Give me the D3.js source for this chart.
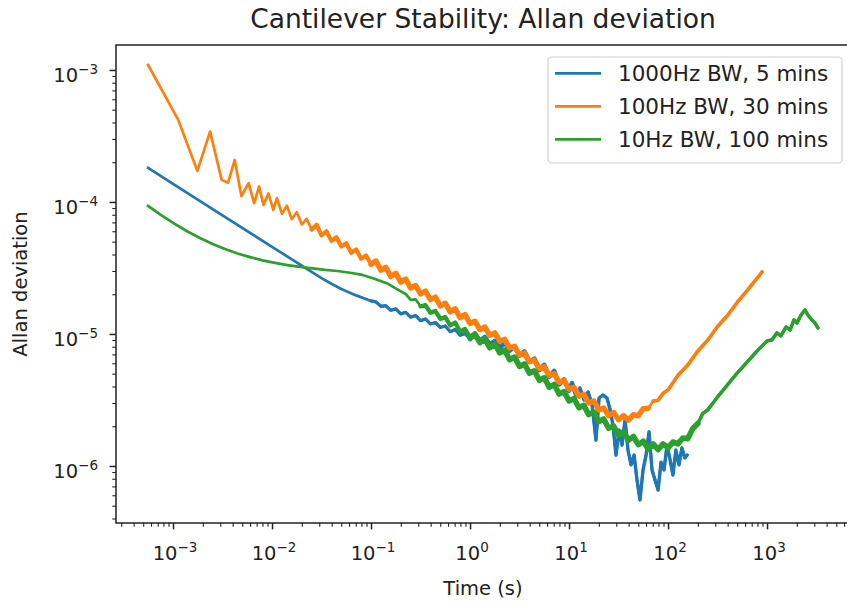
<!DOCTYPE html>
<html>
<head>
<meta charset="utf-8">
<script src="https://cdn.jsdelivr.net/npm/d3@7"></script>
<style>
  body { margin: 0; background: #fff; }
  svg { font-family: "DejaVu Sans", sans-serif; }
</style>
</head>
<body>
<div id="chart"></div>
<script>
// Averaging times (s) and Allan deviation

const tauBlue = [5.6e-4, 1e-3, 3.16e-3, 1e-2, 3.16e-2, 3.98e-2, 5.01e-2, 7.08e-2, 0.1,
  0.112, 0.126, 0.141, 0.158, 0.178, 0.2, 0.224, 0.251, 0.282, 0.316, 0.355, 0.398, 0.447, 0.501, 0.562, 0.631, 0.708, 0.794, 0.891, 1.0,
  1.12, 1.26, 1.41, 1.58, 1.78, 2.0, 2.24, 2.51, 2.82, 3.16, 3.55, 3.98, 4.47, 5.01, 5.62, 6.31, 7.08, 7.94, 8.91, 10,
  10.7, 11.8, 12.9, 14.2, 15.6, 17.1, 18.7, 20.1, 22.0, 24.2, 26.0, 27.8, 29.8, 32.0, 34.3, 36.8, 39.4, 42.3, 45.4, 48.6,
  52.1, 55.9, 60.0, 64.3, 68.9, 73.9, 79.3, 85.0, 91.1, 97.7, 105, 112, 120, 129, 138, 148, 156];
const devBlue = [1.81e-4, 1.37e-4, 7.92e-5, 4.57e-5, 2.65e-5, 2.40e-5, 2.19e-5, 1.96e-5, 1.78e-5,
  1.75e-5, 1.62e-5, 1.64e-5, 1.51e-5, 1.55e-5, 1.42e-5, 1.46e-5, 1.34e-5, 1.38e-5, 1.26e-5, 1.30e-5, 1.19e-5, 1.22e-5, 1.12e-5, 1.15e-5, 1.04e-5, 1.08e-5, 9.77e-6, 1.01e-5, 9.14e-6,
  1.00e-5, 8.89e-6, 9.49e-6, 8.32e-6, 8.87e-6, 7.73e-6, 8.73e-6, 7.47e-6, 8.06e-6, 6.86e-6, 7.38e-6, 6.16e-6, 6.49e-6, 5.32e-6, 5.83e-6, 4.74e-6, 5.24e-6, 4.15e-6, 4.53e-6, 3.71e-6,
  4.25e-6, 3.45e-6, 3.90e-6, 3.16e-6, 3.64e-6, 2.90e-6, 1.57e-6, 3.27e-6, 3.45e-6, 3.27e-6, 2.66e-6, 2.04e-6, 1.21e-6, 1.87e-6, 1.44e-6, 2.23e-6, 1.32e-6, 1.02e-6, 1.21e-6, 7.83e-7,
  5.53e-7, 9.33e-7, 1.21e-6, 1.81e-6, 9.33e-7, 7.83e-7, 6.58e-7, 1.07e-6, 9.33e-7, 1.44e-6, 1.11e-6, 8.55e-7, 1.32e-6, 1.02e-6, 1.37e-6, 1.15e-6, 1.21e-6];

const tauOrange = [5.6e-4, 1.13e-3, 1.76e-3, 2.37e-3, 3.1e-3, 3.6e-3, 4.2e-3, 4.9e-3, 5.8e-3, 6.6e-3, 7.4e-3, 8.2e-3, 9.2e-3, 1.03e-2,
  0.0112, 0.0126, 0.0141, 0.0158, 0.0178, 0.020, 0.0224, 0.0251, 0.0282, 0.0316, 0.0355, 0.0398, 0.0447, 0.0501, 0.0562, 0.0631, 0.0708, 0.0794, 0.0891, 0.1,
  0.112, 0.126, 0.141, 0.158, 0.178, 0.2, 0.224, 0.251, 0.282, 0.316, 0.355, 0.398, 0.447, 0.501, 0.562, 0.631, 0.708, 0.794, 0.891, 1.0,
  1.12, 1.26, 1.41, 1.58, 1.78, 2.0, 2.24, 2.51, 2.82, 3.16, 3.55, 3.98, 4.47, 5.01, 5.62, 6.31, 7.08, 7.94, 8.91, 10,
  11.2, 12.6, 14.1, 15.8, 17.8, 20, 22.4, 25.1, 28.2, 31.6, 35.5, 39.8, 44.7, 50.1, 56.2, 63.1, 70.8, 79.4, 89.1, 100,
  126, 158, 200, 251, 316, 398, 501, 631, 794, 891];
const devOrange = [1.09e-3, 4.18e-4, 1.72e-4, 3.41e-4, 1.47e-4, 1.40e-4, 2.08e-4, 1.11e-4, 1.39e-4, 9.8e-5, 1.31e-4, 9.5e-5, 1.16e-4, 8.7e-5,
  1.07e-4, 8.13e-5, 9.39e-5, 7.41e-5, 8.36e-5, 6.76e-5, 7.46e-5, 6.17e-5, 6.72e-5, 5.58e-5, 5.99e-5, 5.07e-5, 5.40e-5, 4.60e-5, 4.87e-5, 4.12e-5, 4.36e-5, 3.72e-5, 3.93e-5, 3.37e-5,
  3.57e-5, 3.04e-5, 3.20e-5, 2.72e-5, 2.88e-5, 2.47e-5, 2.60e-5, 2.23e-5, 2.33e-5, 2.01e-5, 2.11e-5, 1.82e-5, 1.90e-5, 1.63e-5, 1.71e-5, 1.47e-5, 1.55e-5, 1.33e-5, 1.40e-5, 1.20e-5,
  1.25e-5, 1.08e-5, 1.13e-5, 9.77e-6, 1.02e-5, 8.81e-6, 9.10e-6, 7.82e-6, 8.07e-6, 6.93e-6, 7.16e-6, 6.15e-6, 6.35e-6, 5.46e-6, 5.64e-6, 4.84e-6, 5.00e-6, 4.30e-6, 4.44e-6, 3.81e-6,
  3.94e-6, 3.38e-6, 3.49e-6, 3.00e-6, 3.10e-6, 2.66e-6, 2.75e-6, 2.40e-6, 2.54e-6, 2.24e-6, 2.41e-6, 2.22e-6, 2.45e-6, 2.40e-6, 2.72e-6, 2.74e-6, 3.10e-6, 3.15e-6, 3.55e-6, 3.77e-6,
  4.87e-6, 5.81e-6, 7.44e-6, 8.96e-6, 1.14e-5, 1.38e-5, 1.74e-5, 2.14e-5, 2.65e-5, 2.95e-5];

const tauGreen = [5.59e-4, 7.65e-4, 1.05e-3, 1.40e-3, 1.87e-3, 2.51e-3, 3.35e-3, 4.48e-3, 6.00e-3, 8.02e-3, 1.07e-2,
  1.43e-2, 1.92e-2, 2.57e-2, 3.43e-2, 4.59e-2, 6.14e-2, 8.21e-2, 0.110, 0.147, 0.196,
  0.224, 0.251, 0.282, 0.316, 0.355, 0.398, 0.447, 0.501, 0.562, 0.631, 0.708, 0.794, 0.891, 1.0,
  1.12, 1.26, 1.41, 1.58, 1.78, 2.0, 2.24, 2.51, 2.82, 3.16, 3.55, 3.98, 4.47, 5.01, 5.62, 6.31, 7.08, 7.94, 8.91, 10,
  11.2, 12.6, 14.1, 15.8, 17.8, 20, 22.4, 25.1, 28.2, 31.6, 35.5, 39.8, 44.7, 50.1, 56.2, 63.1, 70.8, 79.4, 89.1, 100,
  112, 126, 141, 158, 178, 200, 224, 251,
  316, 398, 501, 631, 794, 1000, 1120, 1260, 1380, 1560, 1710, 1870, 2010, 2200, 2420, 2590, 2780, 3050, 3270];
const devGreen = [9.33e-5, 7.90e-5, 6.80e-5, 5.97e-5, 5.33e-5, 4.80e-5, 4.40e-5, 4.07e-5, 3.82e-5, 3.61e-5, 3.46e-5,
  3.32e-5, 3.22e-5, 3.14e-5, 3.06e-5, 3.00e-5, 2.91e-5, 2.80e-5, 2.61e-5, 2.41e-5, 2.12e-5,
  2.01e-5, 1.81e-5, 1.83e-5, 1.62e-5, 1.65e-5, 1.45e-5, 1.49e-5, 1.30e-5, 1.34e-5, 1.16e-5, 1.22e-5, 1.04e-5, 1.09e-5, 9.40e-6,
  9.98e-6, 8.61e-6, 9.14e-6, 7.87e-6, 8.38e-6, 7.21e-6, 7.53e-6, 6.38e-6, 6.68e-6, 5.68e-6, 5.93e-6, 5.04e-6, 5.25e-6, 4.46e-6, 4.67e-6, 3.95e-6, 4.14e-6, 3.51e-6, 3.66e-6, 3.11e-6,
  3.25e-6, 2.76e-6, 2.88e-6, 2.45e-6, 2.56e-6, 2.17e-6, 2.27e-6, 1.93e-6, 2.01e-6, 1.71e-6, 1.82e-6, 1.57e-6, 1.67e-6, 1.45e-6, 1.54e-6, 1.34e-6, 1.47e-6, 1.33e-6, 1.47e-6, 1.37e-6,
  1.52e-6, 1.47e-6, 1.63e-6, 1.61e-6, 1.92e-6, 2.10e-6, 2.50e-6, 2.65e-6,
  3.33e-6, 4.11e-6, 5.07e-6, 6.14e-6, 7.43e-6, 8.85e-6, 9.02e-6, 1.02e-5, 9.66e-6, 1.13e-5, 1.07e-5, 1.28e-5, 1.21e-5, 1.39e-5, 1.52e-5, 1.39e-5, 1.30e-5, 1.21e-5, 1.11e-5];

const seriesLabels = ["1000Hz BW, 5 mins", "100Hz BW, 30 mins", "10Hz BW, 100 mins"];
const seriesColors = ["#1f77b4", "#ff7f0e", "#2ca02c"];
const xMajor = [1e-3, 1e-2, 1e-1, 1e0, 1e1, 1e2, 1e3];
const yMajor = [1e-6, 1e-5, 1e-4, 1e-3];

// Set up the chart dimensions (right spine sits just outside the window)
const width = 847, height = 604;
const margin = { top: 45, right: -3, bottom: 81, left: 116 };
const x0 = margin.left, x1 = width - margin.right;
const y0 = margin.top, y1 = height - margin.bottom;

const x = d3.scaleLog()
  .domain([Math.pow(10, -3.576), Math.pow(10, 3.838)])
  .range([x0, x1]);

const y = d3.scaleLog()
  .domain([Math.pow(10, -6.432), Math.pow(10, -2.811)])
  .range([y1, y0]);

// minor ticks: 2..9 inside every decade that touches the domain
function minorTicks(scale, lo, hi) {
  const out = [];
  const [a, b] = scale.domain();
  for (let e = lo; e <= hi; e++) {
    for (let m = 2; m <= 9; m++) {
      const v = m * Math.pow(10, e);
      if (v > a && v < b) out.push(v);
    }
  }
  return out;
}

const svg = d3.select("#chart")
  .append("svg")
  .attr("width", width)
  .attr("height", height);

svg.append("defs").append("clipPath").attr("id", "plot-clip")
  .append("rect")
  .attr("x", x0).attr("y", y0)
  .attr("width", x1 - x0).attr("height", y1 - y0);

// Lines
const line = d3.line()
  .x(d => x(d[0]))
  .y(d => y(d[1]));

const series = [
  d3.zip(tauBlue, devBlue),
  d3.zip(tauOrange, devOrange),
  d3.zip(tauGreen, devGreen)
];

// the dense, noisy stretches read as thick bands in the original plot:
// [from tau, to tau, stroke width] per series
const bands = [
  [[0.1, 1.0, 3.2], [1.0, 12, 4.6], [12, 160, 3.4]],
  [[0.025, 0.1, 4.2], [0.1, 70, 5.4], [70, 900, 3.6]],
  [[0.3, 1.0, 4.4], [1.0, 200, 5.6], [200, 3300, 3.6]]
];

const plot = svg.append("g").attr("clip-path", "url(#plot-clip)");

series.forEach((pts, i) => {
  const g = plot.append("g");
  g.append("path")
    .attr("d", line(pts))
    .attr("fill", "none")
    .attr("stroke", seriesColors[i])
    .attr("stroke-width", 2.7)
    .attr("stroke-linejoin", "round")
    .attr("stroke-linecap", "square");
  bands[i].forEach(([lo, hi, w]) => {
    g.append("path")
      .attr("d", line(pts.filter(d => d[0] >= lo && d[0] <= hi)))
      .attr("fill", "none")
      .attr("stroke", seriesColors[i])
      .attr("stroke-width", w)
      .attr("stroke-linejoin", "round")
      .attr("stroke-linecap", "round");
  });
});

// Axes (ticks only, spines drawn as a box)
const xMajorAxis = svg.append("g")
  .attr("transform", "translate(0," + y1 + ")")
  .call(d3.axisBottom(x).tickValues(xMajor).tickSize(6.4).tickSizeOuter(0).tickFormat(""));
const xMinorAxis = svg.append("g")
  .attr("transform", "translate(0," + y1 + ")")
  .call(d3.axisBottom(x).tickValues(minorTicks(x, -4, 3)).tickSize(3.7).tickSizeOuter(0).tickFormat(""));
const yMajorAxis = svg.append("g")
  .attr("transform", "translate(" + x0 + ",0)")
  .call(d3.axisLeft(y).tickValues(yMajor).tickSize(6.4).tickSizeOuter(0).tickFormat(""));
const yMinorAxis = svg.append("g")
  .attr("transform", "translate(" + x0 + ",0)")
  .call(d3.axisLeft(y).tickValues(minorTicks(y, -7, -3)).tickSize(3.7).tickSizeOuter(0).tickFormat(""));

[xMajorAxis, xMinorAxis, yMajorAxis, yMinorAxis].forEach(g => g.select(".domain").remove());
[xMajorAxis, yMajorAxis].forEach(g => g.selectAll("line").attr("stroke", "#222").attr("stroke-width", 1.5));
[xMinorAxis, yMinorAxis].forEach(g => g.selectAll("line").attr("stroke", "#222").attr("stroke-width", 1.1));

// 10^n labels
function powLabel(text, v) {
  const e = Math.round(Math.log10(v));
  text.append("tspan").text("10");
  text.append("tspan")
    .attr("dy", -8)
    .attr("font-size", 13.5)
    .text(e < 0 ? "\u2212" + (-e) : String(e));
}

xMajor.forEach(v => {
  const t = svg.append("text")
    .attr("x", x(v) + 2)
    .attr("y", 560)
    .attr("text-anchor", "middle")
    .attr("font-size", 19.5)
    .attr("fill", "#222");
  powLabel(t, v);
});

yMajor.forEach(v => {
  const t = svg.append("text")
    .attr("x", 98)
    .attr("y", y(v) + 12.5)
    .attr("text-anchor", "end")
    .attr("font-size", 19.5)
    .attr("fill", "#222");
  powLabel(t, v);
});

// Spines
svg.append("rect")
  .attr("x", x0).attr("y", y0)
  .attr("width", x1 - x0).attr("height", y1 - y0)
  .attr("fill", "none")
  .attr("stroke", "#222")
  .attr("stroke-width", 1.5);

// Axis labels and title
svg.append("text")
  .attr("x", (x0 + x1) / 2)
  .attr("y", 595)
  .attr("text-anchor", "middle")
  .attr("font-size", 19.5)
  .attr("fill", "#222")
  .text("Time (s)");

svg.append("text")
  .attr("transform", "translate(27," + ((y0 + y1) / 2) + ") rotate(-90)")
  .attr("text-anchor", "middle")
  .attr("font-size", 19.5)
  .attr("fill", "#222")
  .text("Allan deviation");

svg.append("text")
  .attr("class", "chart-title")
  .attr("x", (x0 + x1) / 2)
  .attr("y", 28)
  .attr("text-anchor", "middle")
  .attr("font-size", 26.5)
  .attr("fill", "#222")
  .text("Cantilever Stability: Allan deviation");

// Legend
const legend = svg.append("g");
legend.append("rect")
  .attr("x", 548).attr("y", 57)
  .attr("width", 294).attr("height", 106)
  .attr("rx", 4)
  .attr("fill", "#fff")
  .attr("fill-opacity", 0.8)
  .attr("stroke", "#d0d0d0")
  .attr("stroke-width", 1.2);

seriesLabels.forEach((label, i) => {
  const ly = 73.3 + i * 33;
  legend.append("line")
    .attr("x1", 555).attr("x2", 601)
    .attr("y1", ly).attr("y2", ly)
    .attr("stroke", seriesColors[i])
    .attr("stroke-width", 2.7);
  legend.append("text")
    .attr("x", 618)
    .attr("y", ly + 7.5)
    .attr("font-size", 21.5)
    .attr("fill", "#222")
    .text(label);
});
</script>
</body>
</html>
